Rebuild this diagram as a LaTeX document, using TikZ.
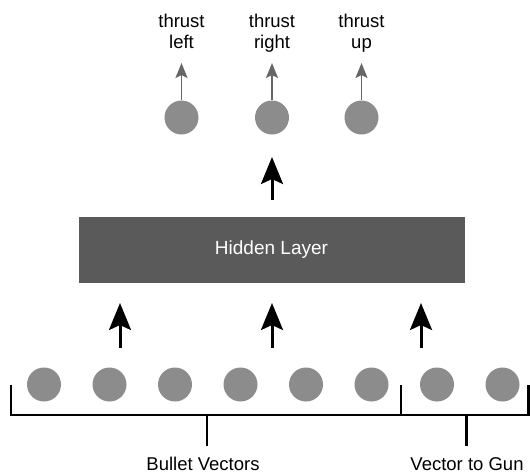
\documentclass[tikz,border=0pt]{standalone}
\usepackage{fontspec}
\setmainfont{Liberation Sans}
\usetikzlibrary{arrows.meta}
\definecolor{dotgray}{HTML}{8C8C8C}
\definecolor{boxgray}{HTML}{5A5A5A}
\definecolor{thingray}{HTML}{666666}
\tikzset{
  dot/.style={circle, fill=dotgray, draw=none, minimum size=34pt, inner sep=0pt},
  bigarrow/.style={-{Stealth[length=27pt, width=22pt, inset=5pt]}, line width=3pt, black},
  smallarrow/.style={-{Stealth[length=15pt, width=12pt, inset=3pt]}, line width=1.8pt, thingray},
  lbl/.style={font=\fontsize{18.5}{21}\selectfont, align=center, inner sep=0pt},
  bracket/.style={line width=2.6pt, black},
}
\begin{document}
\begin{tikzpicture}[x=1pt, y=-1pt]
\useasboundingbox (0,0) rectangle (530,474);
% output nodes
\foreach \n/\x in {o1/181.5, o2/272, o3/361.5}{
  \node[dot] (\n) at (\x,117.5) {};
  \coordinate (\n t) at (\x,63);
}
\draw[smallarrow] (o1.north) -- (o1t);
\draw[smallarrow] (o2.north) -- (o2t);
\draw[smallarrow] (o3.north) -- (o3t);
\node[lbl, anchor=base] (l1) at (181.5,48) {thrust\\left};
\node[lbl, anchor=base] (l2) at (272,48) {thrust\\right};
\node[lbl, anchor=base] (l3) at (361.5,48) {thrust\\up};
% hidden layer
\node[fill=boxgray, minimum width=386pt, minimum height=66pt, inner sep=0pt,
      text=white, font=\fontsize{19}{21}\selectfont] (hid) at (271.5,249.5) {Hidden Layer};
\coordinate (ta0) at (272,200);
\coordinate (ta1) at (272,157);
\draw[bigarrow] (ta0) -- (ta1);
% input arrows
\foreach \x [count=\i] in {120,272,421}{
  \coordinate (ia\i) at (\x,348);
  \coordinate (ib\i) at (\x,303);
  \draw[bigarrow] (ia\i) -- (ib\i);
}
% input nodes
\foreach \x [count=\i] in {44,109.5,175,240.5,306,371.5,437,502.5}{
  \node[dot] (in\i) at (\x,384.5) {};
}
% brackets
\coordinate (bl) at (11,385);
\coordinate (blb) at (11,415);
\coordinate (bm) at (401,385);
\coordinate (bmb) at (401,415);
\coordinate (br) at (528.5,385);
\coordinate (brb) at (528.5,415);
\draw[bracket] (bl) -- (blb) -- (brb) -- (br);
\draw[bracket] (bm) -- (bmb);
\coordinate (t1a) at (207,415);
\coordinate (t1b) at (207,446);
\coordinate (t2a) at (466.5,415);
\coordinate (t2b) at (466.5,446);
\draw[bracket] (t1a) -- (t1b);
\draw[bracket] (t2a) -- (t2b);
\node[lbl, anchor=base] (bv) at (203,470) {Bullet Vectors};
\node[lbl, anchor=base] (vg) at (467,470) {Vector to Gun};
\end{tikzpicture}
\end{document}
